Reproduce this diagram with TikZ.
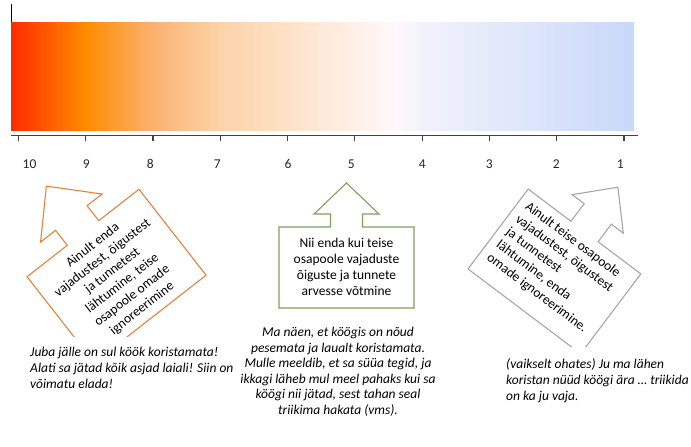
\documentclass[tikz,border=0pt]{standalone}
\usepackage{fontspec}
\setmainfont{Carlito}
\definecolor{g0}{HTML}{FF2A00}
\definecolor{g1}{HTML}{FF8C00}
\definecolor{g2}{HTML}{FBB373}
\definecolor{g3}{HTML}{FDD3A9}
\definecolor{g4}{HTML}{FEE2C8}
\definecolor{g5}{HTML}{FFF0E8}
\definecolor{g6}{HTML}{FFF8FC}
\definecolor{g7}{HTML}{F2F2FC}
\definecolor{g8}{HTML}{E4EAFA}
\definecolor{g9}{HTML}{D8E2FA}
\definecolor{g10}{HTML}{C8D8F8}
\definecolor{orangec}{HTML}{E8823A}
\definecolor{greenc}{HTML}{7FA05A}
\definecolor{grayc}{HTML}{A6A6A6}
\definecolor{axisc}{HTML}{404040}
\pgfdeclarehorizontalshading{scalebar}{100bp}{color(0bp)=(g0); color(25bp)=(g0); color(31.02bp)=(g1); color(36.56bp)=(g2); color(41.85bp)=(g3); color(47.3bp)=(g4); color(52.7bp)=(g5); color(55.8bp)=(g6); color(58.15bp)=(g7); color(63.5bp)=(g8); color(68.9bp)=(g9); color(75bp)=(g10); color(100bp)=(g10)}
\begin{document}
\begin{tikzpicture}[x=1pt,y=-1pt,
  cbox/.style={line width=1.1pt, line join=miter, fill=white},
  ctext/.style={font=\fontsize{13.5}{16}\selectfont, inner sep=0pt, text=black},
  itext/.style={font=\fontsize{13.5}{16}\selectfont\itshape, inner sep=0pt, text=black},
  axisline/.style={draw=axisc, line width=1.2pt},
  ticklabel/.style={font=\fontsize{13.5}{16}\selectfont, inner sep=0pt, text=black!85}]
\useasboundingbox (0,0) rectangle (691,447);
% gradient bar
\shade[shading=scalebar] (11,22.7) rectangle (634,130.7);
\draw[black, line width=0.8pt] (11.7,4) -- (11.7,21.7);
% axis
\draw[axisline] (11,135.5) -- (638,135.5);
\foreach \k in {0,...,9} \draw[axisline] (18.3+67.3*\k,135.5) -- ++(0,5);
\foreach \lab/\xx in {10/29.5, 9/86.4, 8/150.4, 7/217.4, 6/288, 5/351.4, 4/422.4, 3/489.4, 2/556.4, 1/620.4}
  \node[ticklabel] (lab\lab) at (\xx,164) {\lab};
% middle callout
\draw[greenc, cbox] (279,227) -- (330.5,227) -- (330.5,214) -- (314,214) -- (346.5,183) -- (379,214) -- (362.5,214) -- (362.5,227) -- (414,227) -- (414,308) -- (279,308) -- cycle;
\node[ctext, align=center] (midtext) at (346.5,267) {Nii enda kui teise\\osapoole vajaduste\\õiguste ja tunnete\\arvesse võtmine};
% left callout
\begin{scope}[shift={(83,233)}, rotate=38]
\draw[orangec, cbox] (-71,0) -- (-20,0) -- (-20,-19) -- (-39,-19) -- (0,-59.5) -- (39,-19) -- (20,-19) -- (20,0) -- (71,0) -- (71,109) -- (-71,109) -- cycle;
\node[ctext, align=center, transform shape] (lefttext) at (0,56) {Ainult enda\\vajadustest, õigustest\\ja tunnetest\\lähtumine, teise\\osapoole omade\\ignoreerimine};
\end{scope}
% right callout
\begin{scope}[shift={(584.5,231.5)}, rotate=-37]
\draw[grayc, cbox] (-70.5,0) -- (-17,0) -- (-17,-22) -- (-32,-22) -- (0,-55.5) -- (32,-22) -- (17,-22) -- (17,0) -- (70.5,0) -- (70.5,100) -- (-70.5,100) -- cycle;
\node[ctext, align=left, anchor=west, transform shape] (righttext) at (-62,46) {Ainult teise osapoole\\vajadustest, õigustest\\ja tunnetest\\lähtumine, enda\\omade ignoreerimine.};
\end{scope}
% covers of the text boxes
\fill[white] (25,337) rectangle (232,395);
\fill[white] (498,347) rectangle (690,405);
% quotes
\node[itext, align=left, anchor=north west] (say1) at (30,347) {Juba jälle on sul köök koristamata!\\Alati sa jätad kõik asjad laiali! Siin on\\võimatu elada!};
\node[itext, align=center, anchor=north, font=\fontsize{13.5}{15.5}\selectfont\itshape] (say2) at (338,327) {Ma näen, et köögis on nõud\\pesemata ja laualt koristamata.\\Mulle meeldib, et sa süüa tegid, ja\\ikkagi läheb mul meel pahaks kui sa\\köögi nii jätad, sest tahan seal\\triikima hakata (vms).};
\node[itext, align=left, anchor=north west] (say3) at (506,358) {(vaikselt ohates) Ju ma lähen\\koristan nüüd köögi ära … triikida\\on ka ju vaja.};
\end{tikzpicture}
\end{document}
